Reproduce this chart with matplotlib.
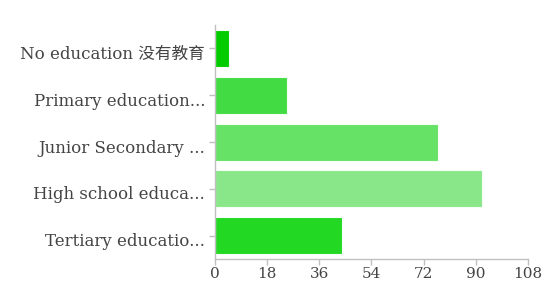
import matplotlib
matplotlib.use("Agg")
import matplotlib.pyplot as plt
import matplotlib.transforms as mtransforms

# education levels, top to bottom
categories = [
    "No education 没有教育",
    "Primary education...",
    "Junior Secondary ...",
    "High school educa...",
    "Tertiary educatio...",
]
counts = [5, 25, 77, 92, 44]
bar_colors = ["#00cc00", "#43db43", "#66e266", "#89e789", "#22d822"]
xticks = [0, 18, 36, 54, 72, 90, 108]

fonts = ["DejaVu Serif", "Noto Sans CJK SC"]
plt.rcParams["font.family"] = fonts

fig = plt.figure(figsize=(5.47, 2.85), dpi=100)
ax = fig.add_axes([0.393, 0.091, 0.572, 0.821])

pos = list(range(len(categories)))
ax.barh(pos, counts, height=0.79, color=bar_colors, edgecolor="#f4fff4", linewidth=0.8)

ax.set_ylim(len(categories) - 0.5, -0.5)
ax.set_xlim(0, 108)
ax.set_xticks(xticks)
ax.set_yticks(pos)
ax.set_yticklabels(categories, fontsize=12)

for s in ["top", "right"]:
    ax.spines[s].set_visible(False)
for s in ["left", "bottom"]:
    ax.spines[s].set_color("#c0c0c0")
    ax.spines[s].set_linewidth(1.0)

ax.tick_params(axis="both", colors="#c0c0c0", labelcolor="#444444", length=4, width=1)
ax.tick_params(axis="x", labelsize=11, pad=2)
ax.tick_params(axis="y", pad=3)

# labels sit a little below the bar centres in the original
shift = mtransforms.ScaledTranslation(0, -4 / 100, fig.dpi_scale_trans)
for lbl in ax.get_yticklabels():
    lbl.set_transform(lbl.get_transform() + shift)

fig.savefig("out.png", dpi=100)
